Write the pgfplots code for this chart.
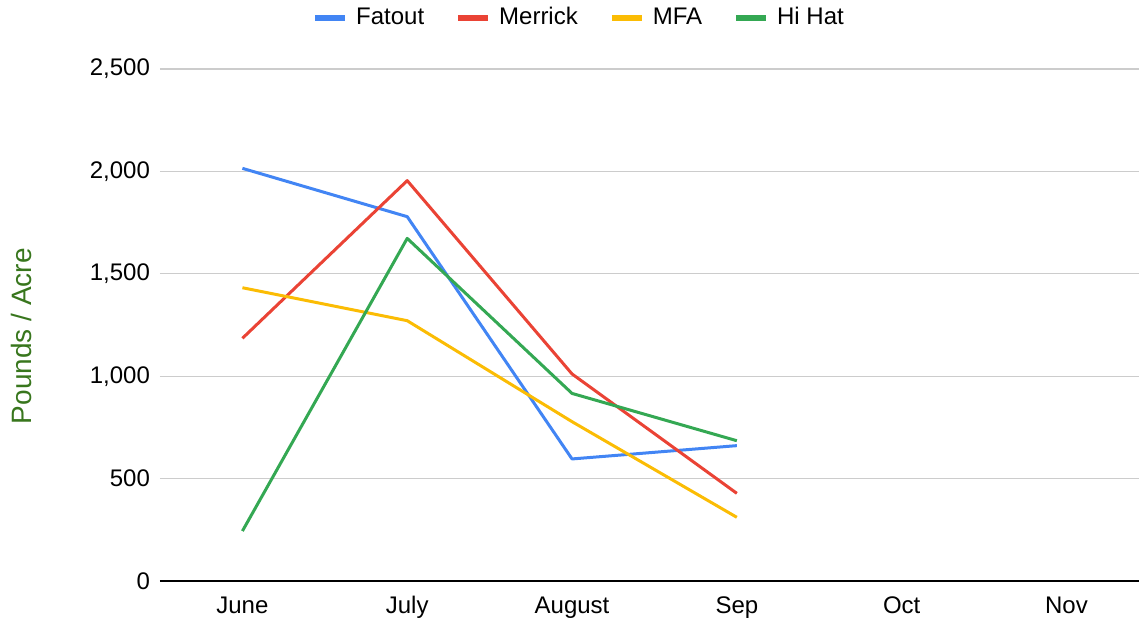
\documentclass[border=0pt]{standalone}
\usepackage{pgfplots}
\pgfplotsset{compat=1.18}
\usepackage{fontspec}
\setmainfont{Liberation Sans}
\definecolor{cblue}{HTML}{4285F4}
\definecolor{cred}{HTML}{EA4335}
\definecolor{cyellow}{HTML}{FBBC04}
\definecolor{cgreen}{HTML}{34A853}
\definecolor{labgreen}{HTML}{38761D}
\definecolor{gridgray}{HTML}{CCCCCC}
\begin{document}
\begin{tikzpicture}
\path[use as bounding box] (-80pt,-18.5pt) rectangle (489.5pt,290.5pt);
\begin{axis}[
  at={(0,0)}, anchor=south west,
  scale only axis, width=489.5pt, height=256pt,
  xmin=-0.5, xmax=5.44, ymin=0, ymax=2500,
  xtick={0,1,2,3,4,5},
  xticklabels={June,July,August,Sep,Oct,Nov},
  ytick={0,500,1000,1500,2000,2500},
  /pgf/number format/1000 sep={,},
  /pgf/number format/assume math mode=true,
  tick label style={font=\fontsize{12}{14}\selectfont},
  major tick length=0pt,
  axis x line*=bottom, axis y line*=left,
  x axis line style={black, line width=0.8pt, -},
  y axis line style={draw=none},
  ymajorgrids, grid style={gridgray, line width=0.6pt},
  yticklabel style={xshift=-1.5pt},
  xticklabel style={yshift=-5pt, text depth=0.25em, text height=0.75em},
  ylabel={Pounds / Acre},
  ylabel style={at={(axis description cs:-0.141,0.478)}, anchor=center, font=\fontsize{14}{16}\selectfont, color=labgreen},
  legend columns=-1,
  legend style={draw=none, at={(0.429,1.1)}, anchor=center, font=\fontsize{12}{14}\selectfont,
    /tikz/every even column/.append style={column sep=13.5pt}},
  legend image code/.code={\draw[line width=3pt] (0pt,0pt) -- (15pt,0pt);},
  every axis plot/.append style={line width=1.5pt, line join=round},
  clip=false,
]
\addplot[cblue] coordinates {(0,2015) (1,1779) (2,596) (3,661)};
\addlegendentry{\hspace{2pt}Fatout}
\addplot[cred] coordinates {(0,1185) (1,1955) (2,1011) (3,428)};
\addlegendentry{\hspace{2pt}Merrick}
\addplot[cyellow] coordinates {(0,1432) (1,1271) (2,778) (3,311)};
\addlegendentry{\hspace{2pt}MFA}
\addplot[cgreen] coordinates {(0,244) (1,1673) (2,916) (3,685)};
\addlegendentry{\hspace{2pt}Hi Hat}
\end{axis}
\end{tikzpicture}
\end{document}
